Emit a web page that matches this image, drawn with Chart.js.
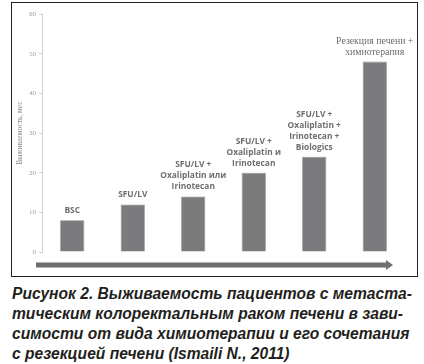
<!DOCTYPE html>
<html><head><meta charset="utf-8">
<script src="https://cdn.jsdelivr.net/npm/chart.js@4/dist/chart.umd.min.js"></script>
<style>
html,body{margin:0;padding:0;background:#fff;width:424px;height:364px;overflow:hidden}
#frame{position:absolute;left:11px;top:2px;width:405px;height:273px;border:1.6px solid #222}
#wrap{position:absolute;left:0;top:0;width:424px;height:280px}
#cap{position:absolute;left:12px;top:284px;width:410px;font-family:"Liberation Sans",Arial,sans-serif;font-weight:bold;font-style:italic;font-size:15.6px;line-height:20px;color:#231f20;white-space:pre}
</style></head><body>
<div id="frame"></div>
<div id="wrap"><canvas id="c" width="424" height="280"></canvas></div>
<div id="cap">Рисунок 2. Выживаемость пациентов с метаста-
тическим колоректальным раком печени в зави-
симости от вида химиотерапии и его сочетания
с резекцией печени (Ismaili N., 2011)</div>
<script>
const categories = [
  ["BSC"],
  ["SFU/LV"],
  ["SFU/LV +","Oxaliplatin или","Irinotecan"],
  ["SFU/LV +","Oxaliplatin и","Irinotecan"],
  ["SFU/LV +","Oxaliplatin +","Irinotecan +","Biologics"],
  ["Резекция печени +","химиотерапия"]
];
const survivalMonths = [8, 12, 14, 20, 24, 48];
const yTicks = [0, 10, 20, 30, 40, 50, 60];
const yTitle = "Выживаемость, мес";

const barLabels = {
  id: 'barLabels',
  afterDatasetsDraw(chart) {
    const ctx = chart.ctx;
    const meta = chart.getDatasetMeta(0);
    ctx.save();
    ctx.textAlign = 'center';
    ctx.textBaseline = 'alphabetic';
    meta.data.forEach((bar, i) => {
      const lines = categories[i];
      const serif = i === categories.length - 1;
      ctx.font = serif ? '9.8px "Liberation Serif", "DejaVu Serif", serif' : 'bold 8.4px "Open Sans", "Liberation Sans", sans-serif';
      ctx.fillStyle = '#6e6e6e';
      const lh = serif ? 10.5 : 11;
      const gap = serif ? 7 : 7;
      for (let k = 0; k < lines.length; k++) {
        const y = bar.y - gap - (lines.length - 1 - k) * lh;
        ctx.fillText(lines[k], bar.x, y);
      }
    });
    ctx.restore();
  }
};

const arrowPlugin = {
  id: 'arrow',
  afterDraw(chart) {
    const ctx = chart.ctx;
    const a = chart.chartArea;
    const y = a.bottom + 13;
    const x0 = a.left - 6;
    const x1 = a.right - 18;
    ctx.save();
    ctx.fillStyle = '#6f6f6f';
    ctx.fillRect(x0, y - 2.5, x1 - x0, 5);
    ctx.beginPath();
    ctx.moveTo(x1 - 1, y - 5);
    ctx.lineTo(x1 + 6, y);
    ctx.lineTo(x1 - 1, y + 5);
    ctx.closePath();
    ctx.fill();
    ctx.restore();
  }
};

new Chart(document.getElementById('c'), {
  type: 'bar',
  data: {
    labels: categories.map(c => c.join(' ')),
    datasets: [{
      data: survivalMonths,
      backgroundColor: '#7b7b7d',
      borderColor: '#8a8a8c',
      borderWidth: 0.8,
      categoryPercentage: 1,
      barPercentage: 0.4
    }]
  },
  options: {
    responsive: false,
    animation: false,
    layout: { padding: { left: 12, right: 19, top: 14, bottom: 28 } },
    plugins: { legend: { display: false }, tooltip: { enabled: false } },
    scales: {
      x: { display: false },
      y: {
        min: 0, max: 60,
        afterBuildTicks(scale) { scale.ticks = yTicks.map(v => ({ value: v })); },
        afterFit(scale) { scale.width = 30; },
        ticks: { color: '#a0a0a0', font: { size: 7, family: '"Liberation Serif", serif' }, padding: 3 },
        grid: { drawOnChartArea: false, tickLength: 3, color: '#cfcfcf' },
        border: { color: '#cfcfcf', width: 1 },
        title: {
          display: true, text: yTitle, color: '#8a8a8a',
          font: { size: 7.5, family: '"Liberation Serif", serif' },
          padding: { top: 4, bottom: 0 }
        }
      }
    }
  },
  plugins: [barLabels, arrowPlugin]
});
</script>
</body></html>
